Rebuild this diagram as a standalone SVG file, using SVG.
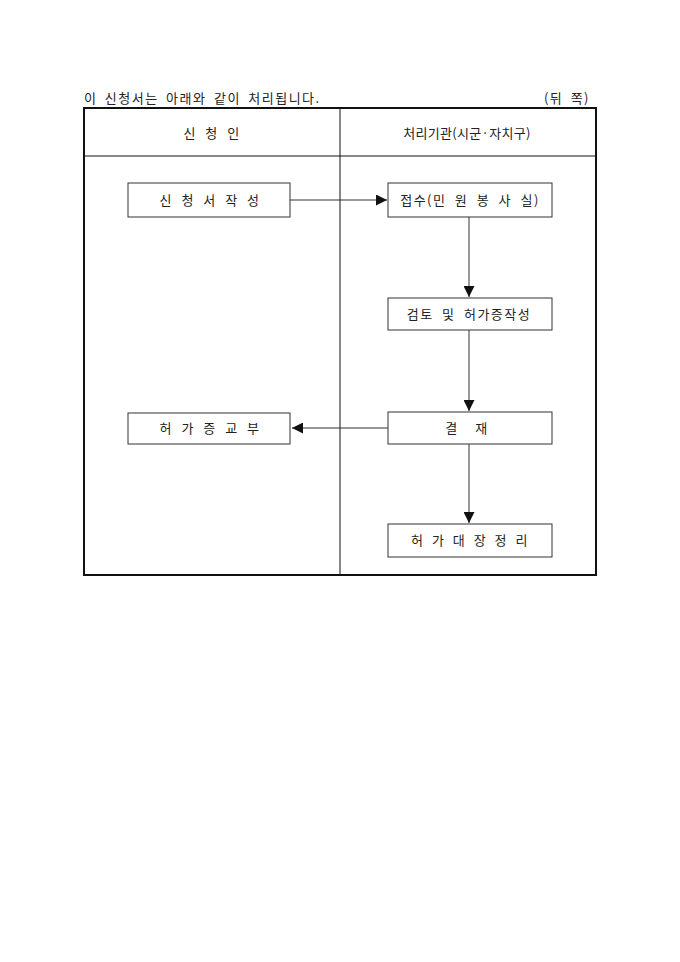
<svg xmlns="http://www.w3.org/2000/svg" width="680" height="962" viewBox="0 0 680 962">
<defs>
<style>
text{font-family:"Noto Sans CJK KR","Noto Sans",sans-serif;font-size:13px;fill:#222;letter-spacing:1.5px;word-spacing:4px;}
.box{fill:#fff;stroke:#333;stroke-width:1;}
.c{text-anchor:middle;}
.conn{stroke:#333;stroke-width:1;fill:none;}
</style>
<marker id="ah" viewBox="0 0 10 10" refX="10" refY="5" markerWidth="11" markerHeight="11" markerUnits="userSpaceOnUse" orient="auto">
<path d="M0,0 L10,5 L0,10 Z" fill="#111"/>
</marker>
</defs>
<rect width="680" height="962" fill="#fff"/>
<text x="84" y="103" style="word-spacing:3px">이 신청서는 아래와 같이 처리됩니다.</text>
<text x="590" y="103" text-anchor="end" style="word-spacing:3px">(뒤 쪽)</text>
<g id="table">
<rect x="84" y="108" width="512" height="467" fill="none" stroke="#111" stroke-width="2"/>
<line x1="85" y1="156" x2="595" y2="156" stroke="#888" stroke-width="2"/>
<line x1="340" y1="109" x2="340" y2="574" stroke="#111" stroke-width="1"/>
<text x="212" y="138" class="c">신 청 인</text>
<text x="467" y="138" class="c" style="letter-spacing:0.3px">처리기관(시군·자치구)</text>
</g>
<g id="connectors">
<line class="conn" x1="290" y1="200" x2="387" y2="200" marker-end="url(#ah)"/>
<line class="conn" x1="469" y1="217" x2="469" y2="297" marker-end="url(#ah)"/>
<line class="conn" x1="469" y1="330" x2="469" y2="411" marker-end="url(#ah)"/>
<line class="conn" x1="388" y1="428" x2="292" y2="428" marker-end="url(#ah)"/>
<line class="conn" x1="469" y1="444" x2="469" y2="523" marker-end="url(#ah)"/>
</g>
<g id="n1"><rect class="box" x="128" y="183" width="162" height="34"/><text x="210" y="205" class="c">신 청 서 작 성</text></g>
<g id="n2"><rect class="box" x="388" y="183" width="164" height="34"/><text x="470" y="205" class="c">접수(민 원 봉 사 실)</text></g>
<g id="n3"><rect class="box" x="388" y="298" width="164" height="32"/><text x="469" y="319" class="c">검토 및 허가증작성</text></g>
<g id="n4"><rect class="box" x="388" y="412" width="164" height="32"/><text x="467" y="433" class="c" style="word-spacing:12px">결 재</text></g>
<g id="n5"><rect class="box" x="128" y="413" width="162" height="31"/><text x="210" y="433" class="c">허 가 증 교 부</text></g>
<g id="n6"><rect class="box" x="388" y="524" width="164" height="33"/><text x="470" y="545" class="c" style="word-spacing:3px">허 가 대 장 정 리</text></g>
</svg>
